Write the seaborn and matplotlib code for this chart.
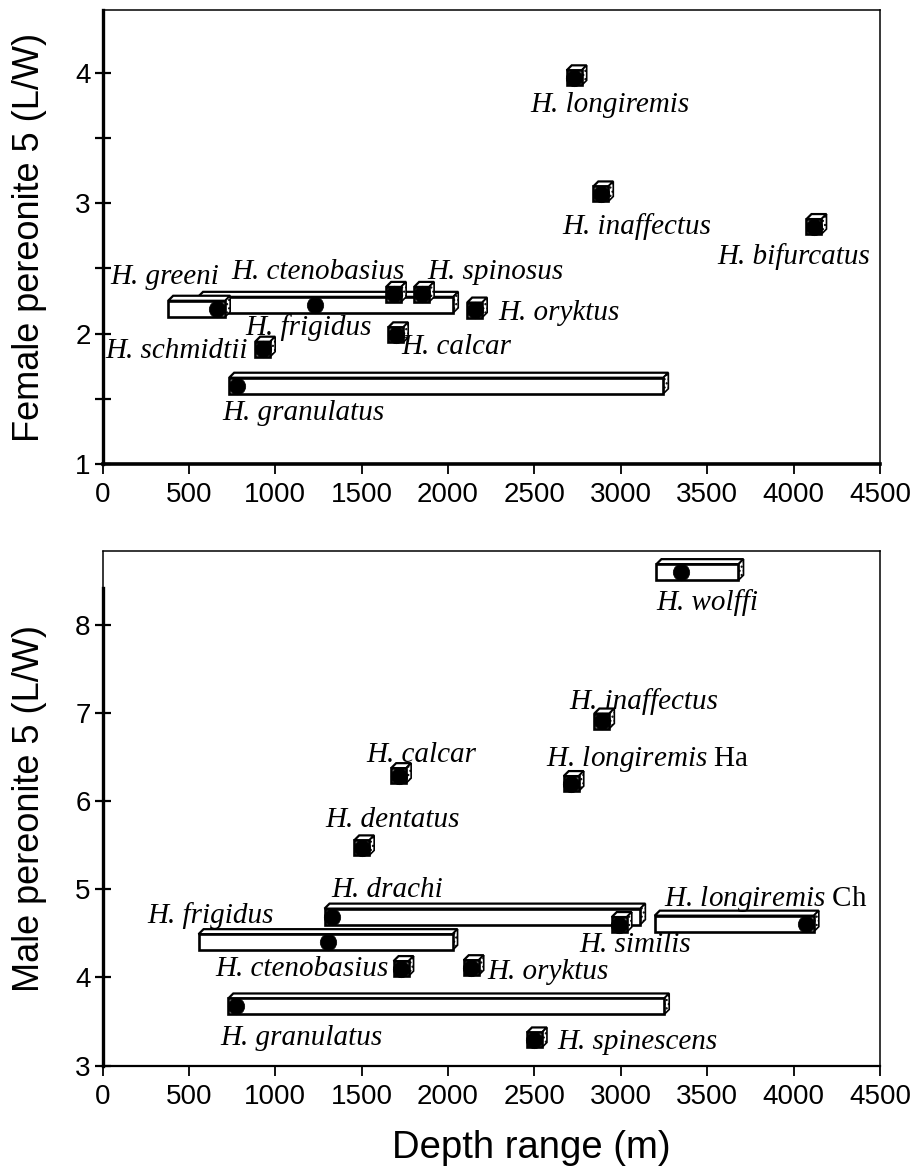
"""
Pereonite 5 L/W ratio against depth range, female (top) and male (bottom).
Bars = depth range of a species, cubes = single depth record, dots = mean.
"""
import matplotlib
matplotlib.use("Agg")
import matplotlib.pyplot as plt
from matplotlib.patches import Polygon, Rectangle
import pandas as pd
import seaborn as sns

# ---- female panel -------------------------------------------------------
F_BAR_NAMES = ["H. frigidus", "H. greeni", "H. granulatus"]
F_BAR_START = [553, 380, 733]
F_BAR_END = [2030, 710, 3246]
F_BAR_Y = [2.22, 2.19, 1.60]
F_BAR_DOT = [1231, 663, 779]

F_CUBE_NAMES = ["H. longiremis", "H. inaffectus", "H. bifurcatus", "H. ctenobasius",
                "H. spinosus", "H. oryktus", "H. calcar", "H. schmidtii"]
F_CUBE_X = [2730, 2884, 4118, 1685, 1847, 2154, 1697, 927]
F_CUBE_Y = [3.96, 3.07, 2.82, 2.30, 2.30, 2.18, 1.99, 1.88]

F_LABELS = ["H. longiremis", "H. inaffectus", "H. bifurcatus", "H. spinosus",
            "H. greeni", "H. ctenobasius", "H. frigidus", "H. calcar",
            "H. oryktus", "H. schmidtii", "H. granulatus"]
F_LABEL_X = [2939, 3094, 3999, 2273, 362, 1248, 1190, 2048, 2644, 430, 1161]
F_LABEL_Y = [3.75, 2.82, 2.59, 2.475, 2.43, 2.475, 2.05, 1.90, 2.16, 1.87, 1.39]

# ---- male panel ---------------------------------------------------------
M_BAR_NAMES = ["H. wolffi", "H. drachi", "H. longiremis Ch", "H. frigidus", "H. granulatus"]
M_BAR_START = [3206, 1285, 3196, 556, 728]
M_BAR_END = [3681, 3113, 4117, 2026, 3251]
M_BAR_Y = [8.60, 4.69, 4.61, 4.40, 3.67]
M_BAR_DOT = [3346, 1327, 4069, 1303, 773]

M_CUBE_NAMES = ["H. inaffectus", "H. longiremis Ha", "H. calcar", "H. dentatus",
                "H. similis", "H. ctenobasius", "H. oryktus", "H. spinescens"]
M_CUBE_X = [2890, 2713, 1714, 1500, 2991, 1728, 2134, 2500]
M_CUBE_Y = [6.91, 6.20, 6.29, 5.47, 4.60, 4.10, 4.11, 3.29]

M_LABELS = ["H. wolffi", "H. inaffectus", "H. longiremis $\\mathrm{Ha}$", "H. calcar",
            "H. dentatus", "H. drachi", "H. frigidus", "H. similis",
            "H. longiremis $\\mathrm{Ch}$", "H. ctenobasius", "H. oryktus",
            "H. granulatus", "H. spinescens"]
M_LABEL_X = [3498, 3131, 3155, 1845, 1677, 1647, 623, 3084, 3840, 1154, 2577, 1151, 3095]
M_LABEL_Y = [8.25, 7.13, 6.48, 6.53, 5.79, 4.99, 4.70, 4.37, 4.89, 4.09, 4.06, 3.31, 3.27]

FIG_W, FIG_H, DPI = 922, 1175, 100
BAR_H_PX = 16      # front face height
CUBE_PX = 15       # cube front face size
DEPTH_PX = 5       # 3d offset


def _box(ax, x0, x1, yc, h_px, z):
    bb = ax.get_window_extent()
    x_lo, x_hi = ax.get_xlim()
    y_lo, y_hi = ax.get_ylim()
    ux = (x_hi - x_lo) / bb.width
    uy = (y_hi - y_lo) / bb.height
    h = h_px * uy
    dx, dy = DEPTH_PX * ux, DEPTH_PX * uy
    y0, y1 = yc - h / 2, yc + h / 2
    kw = dict(facecolor="white", edgecolor="black", zorder=z)
    ax.add_patch(Polygon([(x0, y1), (x1, y1), (x1 + dx, y1 + dy), (x0 + dx, y1 + dy)],
                         lw=1.6, **kw))
    ax.add_patch(Polygon([(x1, y0), (x1 + dx, y0 + dy), (x1 + dx, y1 + dy), (x1, y1)],
                         lw=1.2, hatch="....", **kw))
    ax.add_patch(Rectangle((x0, y0), x1 - x0, h, lw=1.9, **kw))


def _cube(ax, xc, yc, z):
    bb = ax.get_window_extent()
    ux = (ax.get_xlim()[1] - ax.get_xlim()[0]) / bb.width
    half = CUBE_PX / 2 * ux
    _box(ax, xc - half, xc + half, yc, CUBE_PX, z)


def _style(ax, ylim, yticks, minor):
    ax.set_xlim(0, 4500)
    ax.set_ylim(*ylim)
    ax.set_xticks(range(0, 4501, 500))
    ax.set_yticks(yticks)
    if minor:
        ax.set_yticks(minor, minor=True)
    ax.tick_params(axis="y", which="both", direction="inout", length=11, width=1.6,
                   labelsize=20, pad=3, color="black", labelcolor="black")
    ax.tick_params(axis="x", direction="out", length=7, width=1.3, labelsize=20, pad=6,
                   color="black", labelcolor="black")
    for side in ("top", "right"):
        ax.spines[side].set_visible(True)
        ax.spines[side].set_linewidth(1.1)
    for sp in ax.spines.values():
        sp.set_color("black")
    ax.spines["left"].set_linewidth(2.4)


def _panel(ax, bar_start, bar_end, bar_y, bar_dot, cube_x, cube_y,
           labels, label_x, label_y):
    z = 2.0
    for x0, x1, y in sorted(zip(bar_start, bar_end, bar_y), key=lambda t: -t[2]):
        _box(ax, x0, x1, y, BAR_H_PX, z)
        z += 0.01
    for x, y in sorted(zip(cube_x, cube_y), key=lambda t: -t[1]):
        _cube(ax, x, y, z)
        z += 0.01

    dots = pd.DataFrame({"depth": list(bar_dot) + list(cube_x),
                         "ratio": list(bar_y) + list(cube_y)})
    sns.scatterplot(data=dots, x="depth", y="ratio", ax=ax, color="black",
                    s=140, edgecolor="black", linewidth=0.5, zorder=10, legend=False)

    for txt, x, y in zip(labels, label_x, label_y):
        ax.text(x, y, txt, ha="center", va="center", fontsize=21, color="black",
                family="Liberation Serif", style="italic", zorder=12)


sns.set_style("ticks")
plt.rcParams["font.family"] = ["Liberation Sans", "DejaVu Sans"]
plt.rcParams["text.color"] = "black"
plt.rcParams["axes.labelcolor"] = "black"
plt.rcParams["mathtext.fontset"] = "custom"
plt.rcParams["mathtext.rm"] = "Liberation Serif"
plt.rcParams["mathtext.it"] = "Liberation Serif:italic"

fig = plt.figure(figsize=(FIG_W / DPI, FIG_H / DPI), dpi=DPI)
ax_f = fig.add_axes([102.5 / FIG_W, 1 - 464 / FIG_H, 777.5 / FIG_W, 454 / FIG_H])
ax_m = fig.add_axes([102.5 / FIG_W, 1 - 1065.5 / FIG_H, 777.5 / FIG_W, 514.5 / FIG_H])

_style(ax_f, (1, 4.48), [1, 2, 3, 4], [1.5, 2.5, 3.5])
ax_f.spines["bottom"].set_linewidth(2.6)
_style(ax_m, (3, 8.84), [3, 4, 5, 6, 7, 8], None)
ax_m.spines["bottom"].set_linewidth(1.6)
ax_m.spines["left"].set_bounds(3, 8.42)
ax_m.plot([0, 0], [8.42, 8.84], color="black", lw=1.1, clip_on=False, zorder=20)

_panel(ax_f, F_BAR_START, F_BAR_END, F_BAR_Y, F_BAR_DOT, F_CUBE_X, F_CUBE_Y,
       F_LABELS, F_LABEL_X, F_LABEL_Y)
_panel(ax_m, M_BAR_START, M_BAR_END, M_BAR_Y, M_BAR_DOT, M_CUBE_X, M_CUBE_Y,
       M_LABELS, M_LABEL_X, M_LABEL_Y)

ax_f.set_xlabel("")
ax_f.set_ylabel("Female pereonite 5 (L/W)", fontsize=26)
ax_m.set_ylabel("Male pereonite 5 (L/W)", fontsize=26)
ax_m.set_xlabel("Depth range (m)", fontsize=27.5)
ax_f.yaxis.set_label_coords(-0.072, 0.5)
ax_m.yaxis.set_label_coords(-0.072, 0.5)
ax_m.xaxis.set_label_coords(0.552, -0.125)

fig.savefig("out.png", dpi=DPI)
